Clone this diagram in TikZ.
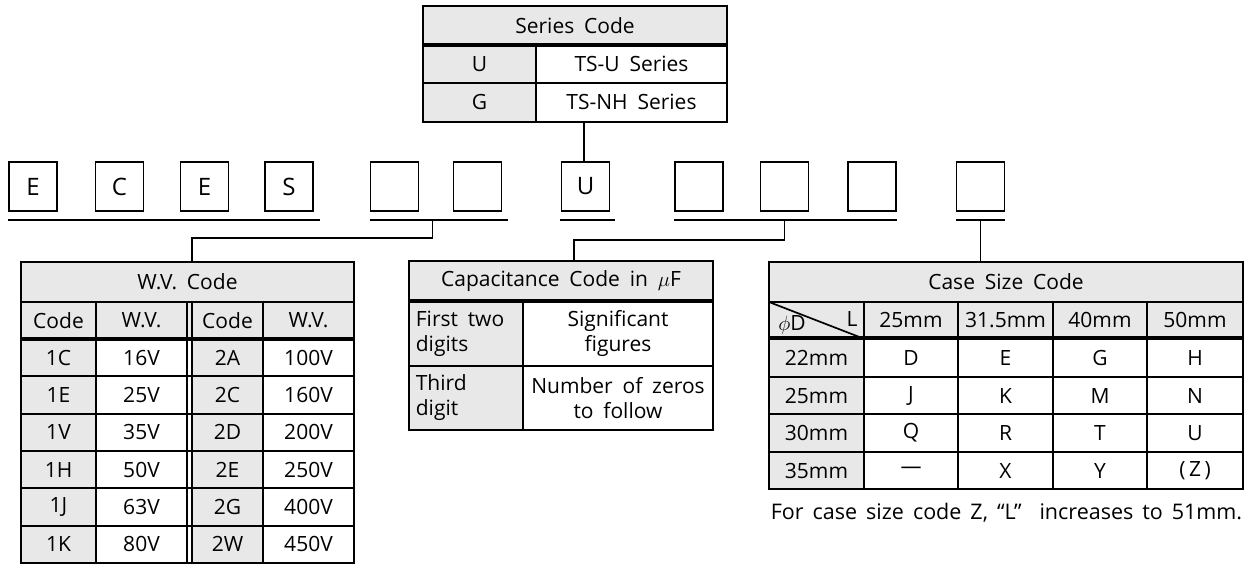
\documentclass[tikz,border=0pt]{standalone}
\usepackage{fontspec}
\setmainfont{Open Sans}[WordSpace=1.8]
\begin{document}
\begin{tikzpicture}[x=1pt,y=-1pt,line width=1.7pt,
  lbox/.style={draw,minimum width=48pt,minimum height=49pt,inner sep=0pt,font=\fontsize{24}{28}\selectfont},
  txt/.style={inner sep=0pt,font=\fontsize{21}{25}\selectfont},
  shade/.style={fill=gray!18},
  heavy/.style={line width=3.5pt},
  uline/.style={line width=2.2pt}]
\useasboundingbox (0,0) rectangle (1250,568);

\fill[shade] (423,6) rectangle (727,45);
\fill[shade] (423,45) rectangle (536,122);
\draw (423,6) rectangle (727,122);
\draw[heavy] (423,45) -- (727,45);
\draw (423,83) -- (727,83);
\draw (536,45) -- (536,122);
\node[txt] (sch) at (575,26) {Series Code};
\node[txt] (su) at (479.5,64) {U};
\node[txt] (sut) at (631.5,64) {TS-U Series};
\node[txt] (sg) at (479.5,102) {G};
\node[txt] (sgt) at (631.5,102) {TS-NH Series};
\coordinate (sbot) at (584,122);

\foreach \i/\x/\t in {1/33/E,2/119.5/C,3/204.5/E,4/289/S,5/394.5/,6/477.5/,
    7/585.5/U,8/699/,9/784.5/,10/872/,11/980.5/}
  \node[lbox] (b\i) at (\x,186.5) {\t};

\draw[uline] ([yshift=-8pt]b1.south west) -- ([xshift=6pt,yshift=-8pt]b4.south east);
\draw[uline] ([yshift=-8pt]b5.south west) -- ([xshift=6pt,yshift=-8pt]b6.south east);
\draw[uline] ([xshift=-1pt,yshift=-8pt]b7.south west) -- ([xshift=5pt,yshift=-8pt]b7.south east);
\draw[uline] ([yshift=-8pt]b8.south west) -- ([yshift=-8pt]b10.south east);
\draw[uline] ([yshift=-8pt]b11.south west) -- ([yshift=-8pt]b11.south east);
\coordinate (u2) at ([xshift=-45pt,yshift=-8pt]b6.south);
\coordinate (u3) at ([yshift=-8pt]b9.south);
\coordinate (u4) at ([yshift=-8pt]b11.south);

\coordinate (wvtop) at (192,262);
\coordinate (cptop) at (574,261);
\coordinate (cstop) at (980.5,262);
\draw (sbot) -- (sbot |- b7.north);
\draw (u2) -- ++(0,18) -| (wvtop);
\draw (u3) -- ++(0,20) -| (cptop);
\draw (u4) -- (cstop);

\fill[shade] (21,262) rectangle (354,339);
\fill[shade] (21,339) rectangle (96,563);
\fill[shade] (192,339) rectangle (263,563);
\draw (21,262) rectangle (354,563);
\draw (21,302) -- (354,302);
\draw[heavy] (21,339) -- (354,339);
\foreach \y in {376.3,413.7,451,488.3,525.7}
  \draw (21,\y) -- (354,\y);
\draw (96,302) -- (96,563);
\draw[line width=1.2pt] (187,302) -- (187,563);
\draw[line width=1.2pt] (192,302) -- (192,563);
\draw (263,302) -- (263,563);
\node[txt] (wvh) at (187.5,282) {W.V. Code};
\node[txt] (wc1) at (58.5,320.5) {Code};
\node[txt] (wv1) at (141.5,320.5) {W.V.};
\node[txt] (wc2) at (227.5,320.5) {Code};
\node[txt] (wv2) at (308.5,320.5) {W.V.};
\foreach \a/\b/\c/\d [count=\i] in {1C/16V/2A/100V,1E/25V/2C/160V,1V/35V/2D/200V,
    1H/50V/2E/250V,1J/63V/2G/400V,1K/80V/2W/450V} {
  \node[txt] (wa\i) at (58.5,{339+37.33*\i-18.67}) {\a};
  \node[txt] (wb\i) at (141.5,{339+37.33*\i-18.67}) {\b};
  \node[txt] (wc\i) at (227.5,{339+37.33*\i-18.67}) {\c};
  \node[txt] (wd\i) at (308.5,{339+37.33*\i-18.67}) {\d};
}

\fill[shade] (409,261) rectangle (713,301);
\fill[shade] (409,301) rectangle (523,430);
\draw (409,261) rectangle (713,430);
\draw[heavy] (409,301) -- (713,301);
\draw (409,366) -- (713,366);
\draw (523,301) -- (523,430);
\node[txt] (cph) at (561,281) {Capacitance Code in $\mu$F};
\node[txt,anchor=west,align=left] (cp1) at (415,333.5) {First two\\digits};
\node[txt,align=center] (cp2) at (618,333.5) {Significant\\figures};
\node[txt,anchor=west,align=left] (cp3) at (415,398) {Third\\digit};
\node[txt,align=center] (cp4) at (618,398) {Number of zeros\\to follow};

\fill[shade] (769,262) rectangle (1243,338);
\fill[shade] (769,338) rectangle (864,489);
\draw (769,262) rectangle (1243,489);
\draw (769,302) -- (1243,302);
\draw[heavy] (769,338) -- (1243,338);
\foreach \y in {377,414,452}
  \draw (769,\y) -- (1243,\y);
\foreach \x in {864,958,1053,1147}
  \draw (\x,302) -- (\x,489);
\draw (769,302) -- (862,338);
\node[txt] (csd) at (792,325) {$\phi$D};
\node[txt] (csl) at (852,319) {L};
\node[txt] (csh) at (1006,282) {Case Size Code};
\foreach \t/\x [count=\i] in {25mm/911,31.5mm/1005.5,40mm/1100,50mm/1195}
  \node[txt] (cc\i) at (\x,320) {\t};
\foreach \r/\y/\a/\b/\c/\d [count=\i] in {22mm/357.5/D/E/G/H,25mm/395.5/J/K/M/N,
    30mm/433/Q/R/T/U,35mm/470.5/—/X/Y/(\,Z\,)} {
  \node[txt] (cr\i) at (816.5,\y) {\r};
  \node[txt] (ca\i) at (911,\y) {\a};
  \node[txt] (cb\i) at (1005.5,\y) {\b};
  \node[txt] (cx\i) at (1100,\y) {\c};
  \node[txt] (cd\i) at (1195,\y) {\d};
}
\node[txt,anchor=west,font=\fontsize{21.5}{25}\selectfont] (note) at (770,513)
  {\spaceskip=9pt plus 2pt\relax For case size code Z, “L”\ \ increases to 51mm.};
\end{tikzpicture}
\end{document}
